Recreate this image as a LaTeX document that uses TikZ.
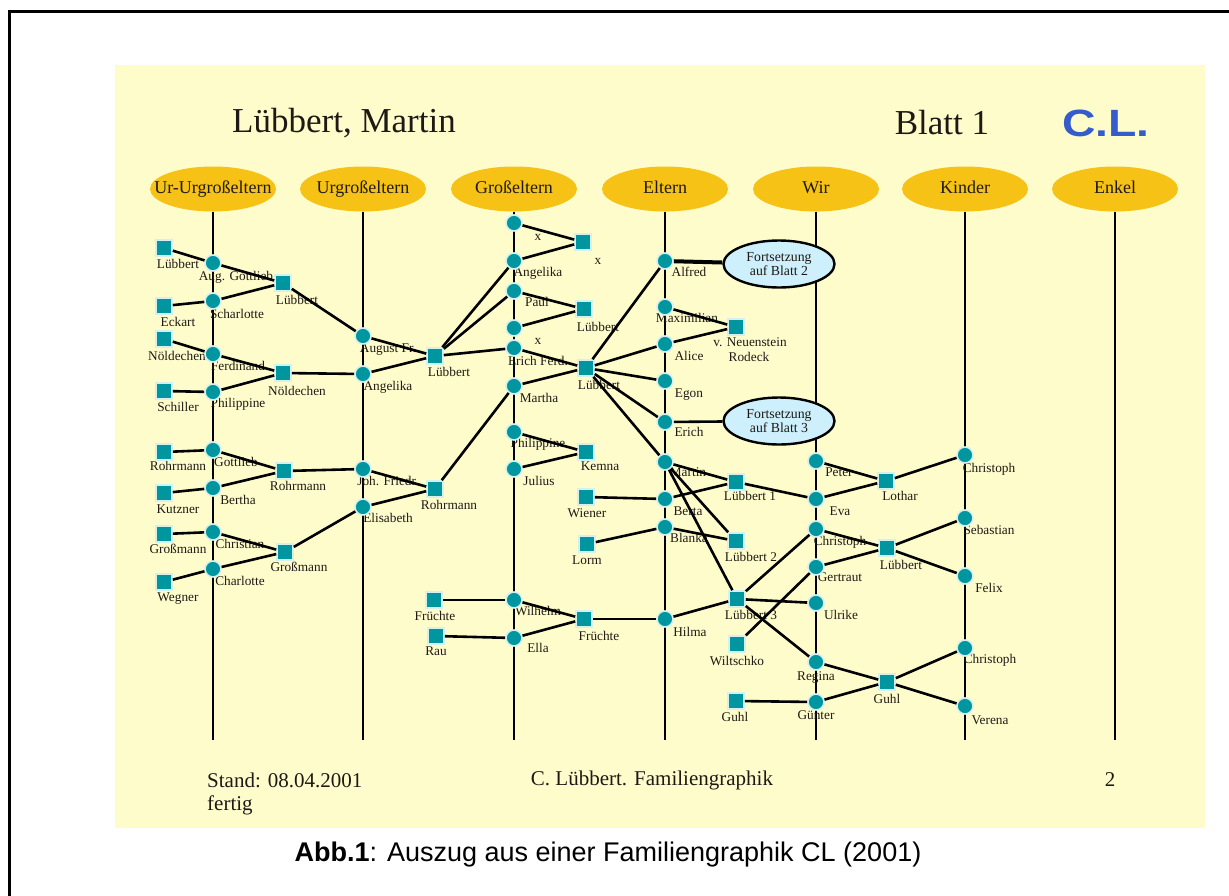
\documentclass[tikz,border=0pt]{standalone}
\usepackage{fontspec}
\setmainfont{Liberation Serif}
\newfontfamily\arialf{Liberation Sans}
\usetikzlibrary{shapes.geometric}

\definecolor{panel}{RGB}{255,252,204}
\definecolor{gold}{RGB}{247,194,22}
\definecolor{nodeteal}{RGB}{0,150,160}
\definecolor{halo}{RGB}{214,240,238}
\definecolor{bubble}{RGB}{205,240,252}
\definecolor{clblue}{RGB}{52,92,205}
\definecolor{ink}{RGB}{30,25,20}

\tikzset{
  person/.style={circle, fill=nodeteal, draw=halo, line width=1.6pt, minimum size=16pt, inner sep=0pt},
  family/.style={rectangle, fill=nodeteal, draw=halo, line width=1.6pt, minimum size=16pt, inner sep=0pt},
  gen/.style={ellipse, fill=gold, minimum width=126pt, minimum height=45pt, inner sep=0pt},
  genlbl/.style={inner sep=0pt, text=ink, text height=12.5pt, text depth=4pt, font=\fontsize{18}{20}\selectfont},
  lbl/.style={inner sep=0pt, text=ink, text height=9pt, text depth=3pt, font=\fontsize{13.3}{14}\selectfont},
  link/.style={line width=2.6pt, black},
  heavylink/.style={line width=4pt, black},
  bubblebox/.style={ellipse, draw=black, line width=2.4pt, fill=bubble, minimum width=111pt,
              minimum height=47pt, inner sep=0pt},
  bubblelbl/.style={inner sep=0pt, align=center, text=ink, font=\fontsize{13.8}{14.5}\selectfont},
}

\begin{document}
\begin{tikzpicture}[x=1pt,y=-1pt]
\useasboundingbox (0,0) rectangle (1229,895);

% page frame and slide panel
\draw[line width=3pt] (9,900) -- (9,11) -- (1235,11);
\fill[panel] (115,65) rectangle (1205,828);

% headings
\node[inner sep=0pt, text=ink, font=\fontsize{35}{38}\selectfont] (title) at (344,123) {Lübbert, Martin};
\node[inner sep=0pt, text=ink, font=\fontsize{35}{38}\selectfont] (sheet) at (942,123) {Blatt 1};
\node[inner sep=0pt, text=clblue, font=\arialf\bfseries\fontsize{38}{40}\selectfont, xscale=1.22] (initials) at (1106,123) {C.L.};

% generation headers
\node[gen] (g1) at (213,189) {};
\node[gen] (g2) at (363,189) {};
\node[gen] (g3) at (514,189) {};
\node[gen] (g4) at (665,189) {};
\node[gen] (g5) at (816,189) {};
\node[gen] (g6) at (965,189) {};
\node[gen] (g7) at (1115,189) {};
\node[genlbl] (t1) at (g1) {Ur-Urgroßeltern};
\node[genlbl] (t2) at (g2) {Urgroßeltern};
\node[genlbl] (t3) at (g3) {Großeltern};
\node[genlbl] (t4) at (g4) {Eltern};
\node[genlbl] (t5) at (g5) {Wir};
\node[genlbl] (t6) at (g6) {Kinder};
\node[genlbl] (t7) at (g7) {Enkel};

\coordinate (e1) at (213,740);
\coordinate (e2) at (363,740);
\coordinate (e3) at (514,740);
\coordinate (e4) at (665,740);
\coordinate (e5) at (816,740);
\coordinate (e6) at (965,740);
\coordinate (e7) at (1115,740);
\foreach \i in {1,...,7}{\draw[link] (g\i.south) -- (e\i);}

% name labels
\node[lbl] (l_luebA) at (178,265) {Lübbert};
\node[lbl] (l_eckart) at (178,323) {Eckart};
\node[lbl] (l_noeldA) at (177,357) {Nöldechen};
\node[lbl] (l_schiller) at (178,408) {Schiller};
\node[lbl] (l_rohrA) at (178,467) {Rohrmann};
\node[lbl] (l_kutzner) at (178,510) {Kutzner};
\node[lbl] (l_grossA) at (178,550) {Großmann};
\node[lbl] (l_wegner) at (178,598) {Wegner};

\node[lbl] (l_augg) at (236,277) {Aug. Gottlieb};
\node[lbl] (l_scharl) at (237,315) {Scharlotte};
\node[lbl] (l_ferd) at (238,367) {Ferdinand};
\node[lbl] (l_phil1) at (238,404) {Philippine};
\node[lbl] (l_gottl) at (236,463) {Gottlieb};
\node[lbl] (l_bertha) at (238,501) {Bertha};
\node[lbl] (l_christian) at (240,545) {Christian};
\node[lbl] (l_charl) at (240,582) {Charlotte};

\node[lbl] (l_luebB) at (297,301) {Lübbert};
\node[lbl] (l_noeldB) at (297,392) {Nöldechen};
\node[lbl] (l_rohrB) at (298,487) {Rohrmann};
\node[lbl] (l_grossB) at (299,568) {Großmann};

\node[lbl] (l_augfr) at (388,349) {August Fr.};
\node[lbl] (l_angel1) at (388,387) {Angelika};
\node[lbl] (l_johfr) at (388,482) {Joh. Friedr.};
\node[lbl] (l_elis) at (388,519) {Elisabeth};

\node[lbl] (l_luebC) at (449,373) {Lübbert};
\node[lbl] (l_rohrC) at (449,506) {Rohrmann};
\node[lbl] (l_fruechteA) at (435,617) {Früchte};
\node[lbl] (l_rau) at (436,652) {Rau};

\node[lbl] (l_x1) at (538,237) {x};
\node[lbl] (l_angel2) at (538,273) {Angelika};
\node[lbl] (l_paul) at (537,303) {Paul};
\node[lbl] (l_x2) at (538,341) {x};
\node[lbl] (l_erichf) at (538,362) {Erich Ferd.};
\node[lbl] (l_martha) at (539,399) {Martha};
\node[lbl] (l_phil2) at (538,444) {Philippine};
\node[lbl] (l_julius) at (539,482) {Julius};
\node[lbl] (l_wilhelm) at (538,612) {Wilhelm};
\node[lbl] (l_ella) at (538,649) {Ella};

\node[lbl] (l_x) at (598,261) {x};
\node[lbl] (l_luebD) at (598,328) {Lübbert};
\node[lbl] (l_luebE) at (599,386) {Lübbert};
\node[lbl] (l_kemna) at (600,467) {Kemna};
\node[lbl] (l_wiener) at (587,514) {Wiener};
\node[lbl] (l_lorm) at (587,561) {Lorm};
\node[lbl] (l_fruechteB) at (599,637) {Früchte};

\node[lbl] (l_alfred) at (689,273) {Alfred};
\node[lbl] (l_maxim) at (687,319) {Maximilian};
\node[lbl] (l_alice) at (689,357) {Alice};
\node[lbl] (l_egon) at (689,394) {Egon};
\node[lbl] (l_erich) at (689,433) {Erich};
\node[lbl] (l_martin) at (688,473) {Martin};
\node[lbl] (l_berta) at (688,512) {Berta};
\node[lbl] (l_blanka) at (689,539) {Blanka};
\node[lbl] (l_hilma) at (690,633) {Hilma};

\node[lbl] (l_neuen) at (750,343) {v. Neuenstein};
\node[lbl] (l_rodeck) at (749,358) {Rodeck};
\node[lbl] (l_luebF1) at (750,497) {Lübbert 1};
\node[lbl] (l_luebF2) at (751,558) {Lübbert 2};
\node[lbl] (l_luebF3) at (751,616) {Lübbert 3};
\node[lbl] (l_wiltschko) at (737,662) {Wiltschko};
\node[lbl] (l_guhlA) at (735,718) {Guhl};

\node[lbl] (l_peter) at (839,473) {Peter};
\node[lbl] (l_eva) at (840,512) {Eva};
\node[lbl] (l_christophW) at (840,542) {Christoph};
\node[lbl] (l_gertraut) at (840,578) {Gertraut};
\node[lbl] (l_ulrike) at (841,616) {Ulrike};
\node[lbl] (l_regina) at (816,677) {Regina};
\node[lbl] (l_guenter) at (816,716) {Günter};

\node[lbl] (l_lothar) at (900,497) {Lothar};
\node[lbl] (l_luebG) at (901,566) {Lübbert};
\node[lbl] (l_guhlB) at (887,700) {Guhl};

\node[lbl] (l_christK1) at (989,469) {Christoph};
\node[lbl] (l_sebastian) at (989,531) {Sebastian};
\node[lbl] (l_felix) at (989,589) {Felix};
\node[lbl] (l_christK2) at (990,660) {Christoph};
\node[lbl] (l_verena) at (990,721) {Verena};

% families (squares)
\node[family] (s_luebA) at (164,248) {};
\node[family] (s_eckart) at (164,306) {};
\node[family] (s_noeldA) at (164,339) {};
\node[family] (s_schiller) at (164,391) {};
\node[family] (s_rohrA) at (164,452) {};
\node[family] (s_kutzner) at (164,493) {};
\node[family] (s_grossA) at (164,534) {};
\node[family] (s_wegner) at (164,582) {};
\node[family] (s_luebB) at (283,283) {};
\node[family] (s_noeldB) at (283,373) {};
\node[family] (s_rohrB) at (284,471) {};
\node[family] (s_grossB) at (285,552) {};
\node[family] (s_luebC) at (435,356) {};
\node[family] (s_rohrC) at (435,489) {};
\node[family] (s_fruechteA) at (434,600) {};
\node[family] (s_rau) at (436,636) {};
\node[family] (s_x) at (583,242) {};
\node[family] (s_luebD) at (584,309) {};
\node[family] (s_luebE) at (586,368) {};
\node[family] (s_kemna) at (586,452) {};
\node[family] (s_wiener) at (586,497) {};
\node[family] (s_lorm) at (587,544) {};
\node[family] (s_fruechteB) at (584,619) {};
\node[family] (s_neuen) at (736,327) {};
\node[family] (s_luebF1) at (736,482) {};
\node[family] (s_luebF2) at (736,541) {};
\node[family] (s_luebF3) at (737,599) {};
\node[family] (s_wiltschko) at (737,644) {};
\node[family] (s_guhlA) at (736,701) {};
\node[family] (s_lothar) at (886,481) {};
\node[family] (s_luebG) at (887,548) {};
\node[family] (s_guhlB) at (887,682) {};

% persons (circles)
\node[person] (c_augg) at (213,263) {};
\node[person] (c_scharl) at (213,301) {};
\node[person] (c_ferd) at (213,354) {};
\node[person] (c_phil1) at (213,392) {};
\node[person] (c_gottl) at (213,450) {};
\node[person] (c_bertha) at (213,488) {};
\node[person] (c_christian) at (213,532) {};
\node[person] (c_charl) at (213,569) {};
\node[person] (c_augfr) at (363,336) {};
\node[person] (c_angel1) at (363,374) {};
\node[person] (c_johfr) at (363,469) {};
\node[person] (c_elis) at (363,507) {};
\node[person] (c_x1) at (514,223) {};
\node[person] (c_angel2) at (514,261) {};
\node[person] (c_paul) at (514,291) {};
\node[person] (c_x2) at (514,328) {};
\node[person] (c_erichf) at (514,348) {};
\node[person] (c_martha) at (514,386) {};
\node[person] (c_phil2) at (514,432) {};
\node[person] (c_julius) at (514,469) {};
\node[person] (c_wilhelm) at (514,600) {};
\node[person] (c_ella) at (514,638) {};
\node[person] (c_alfred) at (665,261) {};
\node[person] (c_maxim) at (665,307) {};
\node[person] (c_alice) at (665,344) {};
\node[person] (c_egon) at (665,381) {};
\node[person] (c_erich) at (665,422) {};
\node[person] (c_martin) at (665,462) {};
\node[person] (c_berta) at (665,499) {};
\node[person] (c_blanka) at (665,527) {};
\node[person] (c_hilma) at (665,619) {};
\node[person] (c_peter) at (816,461) {};
\node[person] (c_eva) at (816,499) {};
\node[person] (c_christophW) at (816,529) {};
\node[person] (c_gertraut) at (816,567) {};
\node[person] (c_ulrike) at (816,603) {};
\node[person] (c_regina) at (816,662) {};
\node[person] (c_guenter) at (816,702) {};
\node[person] (c_christK1) at (965,455) {};
\node[person] (c_sebastian) at (965,518) {};
\node[person] (c_felix) at (965,576) {};
\node[person] (c_christK2) at (965,648) {};
\node[person] (c_verena) at (965,706) {};

% continuation notes
\node[bubblebox] (b_two) at (779,264) {};
\node[bubblebox] (b_three) at (779,421) {};
\node[bubblelbl] (bt_two) at (b_two) {Fortsetzung\\auf Blatt 2};
\node[bubblelbl] (bt_three) at (b_three) {Fortsetzung\\auf Blatt 3};

% family links
\foreach \a/\b in {
  s_luebA/c_augg, c_augg/s_luebB, s_eckart/c_scharl, c_scharl/s_luebB, s_luebB/c_augfr,
  s_noeldA/c_ferd, c_ferd/s_noeldB, s_schiller/c_phil1, c_phil1/s_noeldB, s_noeldB/c_angel1,
  c_augfr/s_luebC, c_angel1/s_luebC,
  s_rohrA/c_gottl, c_gottl/s_rohrB, s_kutzner/c_bertha, c_bertha/s_rohrB, s_rohrB/c_johfr,
  s_grossA/c_christian, c_christian/s_grossB, s_wegner/c_charl, c_charl/s_grossB, s_grossB/c_elis,
  c_johfr/s_rohrC, c_elis/s_rohrC, s_rohrC/c_martha,
  c_x1/s_x, c_angel2/s_x, c_paul/s_luebD, c_x2/s_luebD,
  s_luebC/c_angel2, s_luebC/c_paul, s_luebC/c_erichf,
  c_erichf/s_luebE, c_martha/s_luebE,
  c_phil2/s_kemna, c_julius/s_kemna,
  s_fruechteA/c_wilhelm, c_wilhelm/s_fruechteB, s_rau/c_ella, c_ella/s_fruechteB, s_fruechteB/c_hilma,
  s_luebE/c_alfred, s_luebE/c_alice, s_luebE/c_egon, s_luebE/c_erich, s_luebE/c_martin,
  c_maxim/s_neuen, c_alice/s_neuen, c_erich/b_three,
  s_wiener/c_berta, s_lorm/c_blanka,
  c_martin/s_luebF1, c_berta/s_luebF1, s_luebF1/c_eva,
  c_blanka/s_luebF2, c_martin/s_luebF2,
  c_martin/s_luebF3, c_hilma/s_luebF3,
  s_luebF3/c_christophW, s_luebF3/c_ulrike, s_luebF3/c_regina,
  s_wiltschko/c_gertraut,
  c_peter/s_lothar, c_eva/s_lothar, s_lothar/c_christK1,
  c_christophW/s_luebG, c_gertraut/s_luebG, s_luebG/c_sebastian, s_luebG/c_felix,
  c_regina/s_guhlB, c_guenter/s_guhlB, s_guhlB/c_christK2, s_guhlB/c_verena,
  s_guhlA/c_guenter}
  {\draw[link] (\a) -- (\b);}
\draw[heavylink] (c_alfred) -- (b_two);

% footer
\node[inner sep=0pt, anchor=west, text=ink, font=\fontsize{21}{23}\selectfont] (stand) at (207,780) {Stand: 08.04.2001};
\node[inner sep=0pt, anchor=west, text=ink, font=\fontsize{21}{23}\selectfont] (fertig) at (207,805) {fertig};
\node[inner sep=0pt, text=ink, font=\fontsize{21}{23}\selectfont] (author) at (652,780) {C. Lübbert. Familiengraphik};
\node[inner sep=0pt, text=ink, font=\fontsize{21}{23}\selectfont] (pageno) at (1110,780) {2};

% caption
\node[inner sep=0pt, font=\arialf\fontsize{27}{30}\selectfont] (caption) at (608,855)
  {\textbf{Abb.1}: Auszug aus einer Familiengraphik CL (2001)};
\end{tikzpicture}
\end{document}
